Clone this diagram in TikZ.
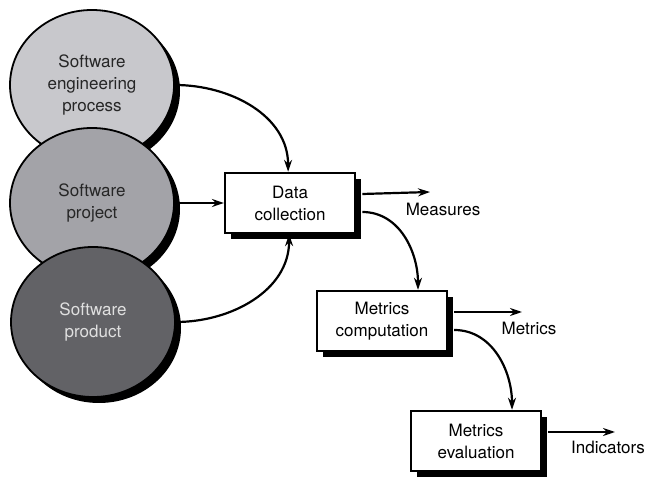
\documentclass[tikz,border=0pt]{standalone}
\usepackage{fontspec}
\setmainfont{TeX Gyre Heros}
\usepackage{tikz}
\usetikzlibrary{arrows.meta, positioning, shapes.geometric}
\definecolor{proclight}{RGB}{200,200,204}
\definecolor{projmid}{RGB}{163,163,168}
\definecolor{proddark}{RGB}{98,98,102}

\begin{document}
\begin{tikzpicture}[x=1pt, y=1pt,
  every node/.style={font=\fontsize{17}{22}\selectfont},
  shade/.style={preaction={fill=black, transform canvas={shift={(6pt,-6pt)}}}},
  source/.style={draw, ellipse, shade, line width=1.8pt, minimum width=164pt,
    minimum height=150pt, inner sep=0pt, align=center},
  stage/.style={draw, rectangle, shade, fill=white, line width=2.4pt,
    minimum width=130pt, minimum height=60pt, inner sep=0pt, align=center},
  flow/.style={-{Stealth[length=12pt, width=8pt]}, line width=2.2pt}]
\useasboundingbox (0,0) rectangle (655,481);

% Sources
\node[source, fill=proclight, text=black!85] (proc) at (92,396) {
    Software\\
    engineering\\
    process
};
\node[source, fill=projmid, text=black!85] (proj) at (92,278) {
    Software\\
    project
};
\node[source, fill=proddark, text=white!88!black] (prod) at (93,159) {
    Software\\
    product
};

% Stages
\node[stage, right=49pt of proj.east, anchor=west] (dc) {
    Data\\
    collection
};
\node[stage] (mc) at (382,160) {
    Metrics\\
    computation
};
\node[stage] (me) at (476,40) {
    Metrics\\
    evaluation
};

% Outputs
\node (measures) at (443,272) {Measures};
\node (metrics) at (529,153) {Metrics};
\node (indicators) at (608,34) {Indicators};
\coordinate (measend) at (430,289);
\coordinate (metend) at (522,169);
\coordinate (indend) at (615,49);

% Arrows
\draw[flow] (proc.east) to[out=0, in=90] ([xshift=-2pt]dc.north);
\draw[flow] (proj.east) -- (dc.west);
\draw[flow] (prod.east) to[out=0, in=-90] ([xshift=-1pt]dc.south);
\draw[flow] ([xshift=6pt, yshift=9pt]dc.east) -- (measend);
\draw[flow] ([xshift=6pt, yshift=-9pt]dc.east) to[out=0, in=90] ([xshift=36pt]mc.north);
\draw[flow] ([xshift=6pt, yshift=9pt]mc.east) -- (metend);
\draw[flow] ([xshift=6pt, yshift=-9pt]mc.east) to[out=0, in=90] ([xshift=36pt]me.north);
\draw[flow] ([xshift=6pt, yshift=9pt]me.east) -- (indend);

\end{tikzpicture}
\end{document}
